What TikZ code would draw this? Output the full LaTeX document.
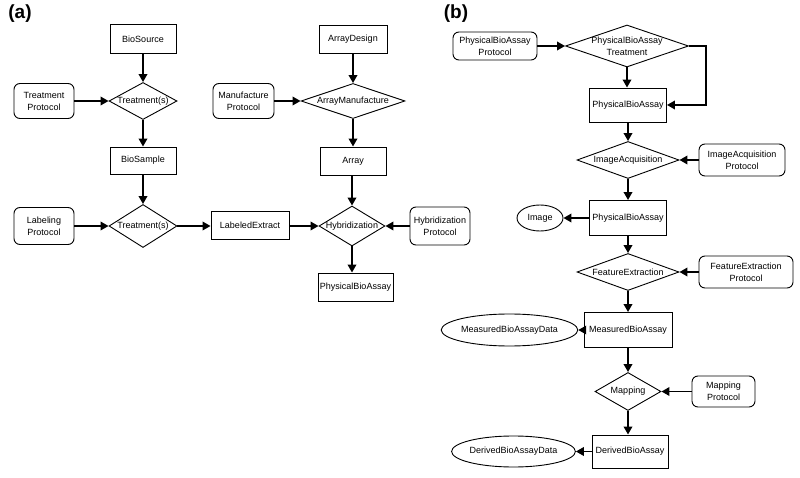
\documentclass[tikz,border=0pt]{standalone}
\usepackage{fontspec}
\setmainfont{Liberation Sans}
\usetikzlibrary{shapes.geometric,arrows.meta}
\begin{document}
\begin{tikzpicture}[x=1pt,y=-1pt,
  every node/.style={font=\fontsize{9}{12}\selectfont, inner sep=0pt, align=center},
  box/.style={draw, line width=0.9pt, rectangle},
  rbox/.style={draw, line width=0.9pt, rectangle, rounded corners=6pt},
  dia/.style={draw, line width=0.9pt, diamond, aspect=1},
  ell/.style={draw, line width=0.9pt, ellipse},
  arr/.style={line width=1.8pt, -{Triangle[length=8pt,width=8.5pt]}},
  panel/.style={font=\fontsize{19}{22}\selectfont\bfseries}
]
\useasboundingbox (0,0) rectangle (800,478);
\node[panel] (pa) at (20,14) {(a)};
\node[panel] (pb) at (456,14) {(b)};

% ---------- panel (a) ----------
\node[box, minimum width=66, minimum height=29] (biosource) at (143,39) {BioSource};
\node[dia, minimum width=68, minimum height=37, label=center:{Treatment(s)}] (treat1) at (143,101) {};
\node[rbox, minimum width=60, minimum height=35] (tprot) at (44,101) {Treatment\\Protocol};
\node[box, minimum width=66, minimum height=27] (biosample) at (143,160.5) {BioSample};
\node[dia, minimum width=68, minimum height=43, label=center:{Treatment(s)}] (treat2) at (143,226) {};
\node[rbox, minimum width=60, minimum height=37] (lprot) at (44,226) {Labeling\\Protocol};
\node[box, minimum width=78, minimum height=28] (labext) at (250,225) {LabeledExtract};
\node[dia, minimum width=66, minimum height=40, label=center:{Hybridization}] (hyb) at (352,226) {};
\node[rbox, minimum width=60, minimum height=38] (hprot) at (440,226) {Hybridization\\Protocol};
\node[box, minimum width=75, minimum height=28] (pbaa) at (355.5,287) {PhysicalBioAssay};
\node[box, minimum width=66, minimum height=28] (array) at (353,161) {Array};
\node[box, minimum width=68, minimum height=28] (adesign) at (353,39) {ArrayDesign};
\node[dia, minimum width=104, minimum height=35, label=center:{ArrayManufacture}] (amanu) at (353,101) {};
\node[rbox, minimum width=61, minimum height=35] (mprot) at (243.5,101) {Manufacture\\Protocol};

\draw[arr] (biosource) -- (treat1);
\draw[arr] (tprot) -- (treat1);
\draw[arr] (treat1) -- (biosample);
\draw[arr] (biosample) -- (treat2);
\draw[arr] (lprot) -- (treat2);
\draw[arr] (treat2.east) -- (labext.west |- treat2.east);
\draw[arr] (labext.east |- hyb.west) -- (hyb.west);
\draw[arr] (hprot) -- (hyb);
\draw[arr] (hyb) -- (hyb.south |- pbaa.north);
\draw[arr] (adesign) -- (amanu);
\draw[arr] (mprot) -- (amanu);
\draw[arr] (amanu) -- (array);
\draw[arr] (array.south -| hyb.north) -- (hyb.north);

% ---------- panel (b) ----------
\node[rbox, minimum width=84, minimum height=28] (pbaprot) at (495,46) {PhysicalBioAssay\\Protocol};
\node[dia, minimum width=123, minimum height=42, label=center:{PhysicalBioAssay\\Treatment}] (pbatreat) at (627,46) {};
\node[box, minimum width=77, minimum height=34] (pba1) at (628,105) {PhysicalBioAssay};
\node[dia, minimum width=102, minimum height=37, label=center:{ImageAcquisition}] (imgacq) at (628,160) {};
\node[rbox, minimum width=86, minimum height=32] (iaprot) at (742,160) {ImageAcquisition\\Protocol};
\node[box, minimum width=77, minimum height=35] (pba2) at (628,218) {PhysicalBioAssay};
\node[ell, minimum width=46, minimum height=26] (image) at (540,218) {Image};
\node[dia, minimum width=102, minimum height=37, label=center:{FeatureExtraction}] (featx) at (628,272) {};
\node[rbox, minimum width=94, minimum height=32] (fxprot) at (746,272) {FeatureExtraction\\Protocol};
\node[box, minimum width=88, minimum height=35] (mba) at (628,330) {MeasuredBioAssay};
\node[ell, minimum width=105, minimum height=32] (mbadata) at (509.5,330) {MeasuredBioAssayData};
\node[dia, minimum width=66, minimum height=38, label=center:{Mapping}] (mapping) at (628,391.5) {};
\node[rbox, minimum width=63, minimum height=31] (mapprot) at (723.5,391.5) {Mapping\\Protocol};
\node[box, minimum width=76, minimum height=33] (dba) at (630,451.5) {DerivedBioAssay};
\node[ell, minimum width=101, minimum height=31] (dbadata) at (513.5,451.5) {DerivedBioAssayData};

\draw[arr] (pbaprot) -- (pbatreat);
\draw[arr] (pbatreat.south) -- (pbatreat.south |- pba1.north);
\draw[arr] (pbatreat.east) -- ++(17,0) |- (pba1.east);
\draw[arr] (pba1) -- (imgacq);
\draw[arr] (iaprot) -- (imgacq);
\draw[arr] (imgacq) -- (pba2);
\draw[arr] (pba2) -- (image);
\draw[arr] (pba2) -- (featx);
\draw[arr] (fxprot) -- (featx);
\draw[arr] (featx) -- (mba);
\draw[arr] (mba) -- (mbadata);
\draw[arr] (mba) -- (mapping);
\draw[arr] (mapprot) -- (mapping);
\draw[arr] (mapping.south) -- (mapping.south |- dba.north);
\draw[arr] (dba) -- (dbadata);
\end{tikzpicture}
\end{document}
